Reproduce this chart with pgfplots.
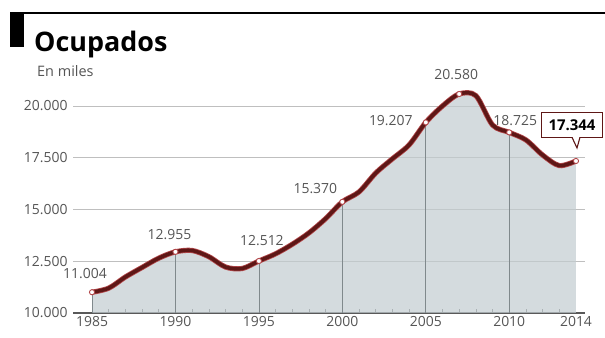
\documentclass[border=0pt]{standalone}
\usepackage{pgfplots}
\usepackage{pgfplotstable}
\pgfplotsset{compat=1.18}
\usetikzlibrary{calc}
\usepackage{fontspec}
\setmainfont{Open Sans}
\definecolor{linedark}{HTML}{5E1716}
\definecolor{lineedge}{HTML}{B2474A}
\definecolor{areafill}{HTML}{C2CCD0}
\definecolor{txtgray}{HTML}{555555}
\definecolor{vgrid}{HTML}{80898C}
\pgfplotstableread{
year val
1985 11004
1986 11200
1987 11740
1988 12200
1989 12650
1990 12955
1991 13020
1992 12720
1993 12220
1994 12150
1995 12512
1996 12860
1997 13320
1998 13870
1999 14560
2000 15370
2001 15850
2002 16760
2003 17450
2004 18120
2005 19207
2006 20000
2007 20580
2008 20500
2009 19080
2010 18725
2011 18360
2012 17630
2013 17120
2014 17344
}\datatable
\pgfplotstableread{
year val
1985 11004
1990 12955
1995 12512
2000 15370
2005 19207
2007 20580
2010 18725
2014 17344
}\marktable
\begin{document}
\begin{tikzpicture}
\path[use as bounding box] (0,0) rectangle (605bp,338bp);
\fill[black] (10bp,291bp) rectangle (24bp,326bp);
\draw[black, line width=1.8bp] (10bp,325bp) -- (605bp,325bp);
\node[anchor=base west, inner sep=0, font=\fontsize{27}{27}\selectfont\bfseries] at (34bp,286bp) {Ocupados};
\node[anchor=base west, inner sep=0, font=\fontsize{14.5}{14.5}\selectfont, text=txtgray] at (37bp,261bp) {En miles};
\begin{axis}[
 at={(73bp,25bp)}, anchor=south west, scale only axis,
 width=512bp, height=248.4bp,
 xmin=1983.86, xmax=2014.54, ymin=10000, ymax=22000,
 clip mode=individual,
 scaled y ticks=false, scaled x ticks=false,
 axis x line*=bottom, axis y line*=left,
 y axis line style={draw=none},
 x axis line style={draw=black!65, line width=1.1bp, -},
 ytick={10000,12500,15000,17500,20000},
 yticklabels={10.000,12.500,15.000,17.500,20.000},
 ytick style={draw=none},
 ymajorgrids, grid style={draw=black!25, line width=0.9bp},
 xtick={1985,1990,1995,2000,2005,2010,2014},
 xticklabels={1985,1990,1995,2000,2005,2010,2014},
 minor xtick={1986,1987,...,2013},
 tick align=inside,
 major x tick style={draw=none},
 minor tick length=4bp,
 minor x tick style={draw=black!55, line width=0.6bp},
 ticklabel style={font=\fontsize{14}{14}\selectfont, text=txtgray},
 yticklabel style={xshift=-2bp},
]
\addplot[fill=areafill, fill opacity=0.7, draw=none, smooth, tension=0.5] table[x=year,y=val] {\datatable} \closedcycle;
\addplot[vgrid, line width=0.7bp] coordinates {(1985,10000) (1985,11004)};
\addplot[vgrid, line width=0.7bp] coordinates {(1990,10000) (1990,12955)};
\addplot[vgrid, line width=0.7bp] coordinates {(1995,10000) (1995,12512)};
\addplot[vgrid, line width=0.7bp] coordinates {(2000,10000) (2000,15370)};
\addplot[vgrid, line width=0.7bp] coordinates {(2005,10000) (2005,19207)};
\addplot[vgrid, line width=0.7bp] coordinates {(2010,10000) (2010,18725)};
\addplot[lineedge, line width=5.2bp, smooth, tension=0.5] table[x=year,y=val] {\datatable};
\addplot[linedark, line width=3.6bp, smooth, tension=0.5] table[x=year,y=val] {\datatable};
\addplot[only marks, mark=*, mark size=2.6bp, mark options={fill=white, draw=lineedge, line width=0.9bp}] table[x=year,y=val] {\marktable};
\begin{scope}[every node/.style={font=\fontsize{14}{14}\selectfont, text=txtgray, inner sep=0}]
\node at ($(axis cs:1985,11004)+(-7bp,19bp)$) {11.004};
\node at ($(axis cs:1990,12955)+(-6bp,17bp)$) {12.955};
\node at ($(axis cs:1995,12512)+(3bp,20bp)$) {12.512};
\node at ($(axis cs:2000,15370)+(-27bp,13bp)$) {15.370};
\node at ($(axis cs:2005,19207)+(-35bp,2bp)$) {19.207};
\node at ($(axis cs:2007,20580)+(-3bp,19bp)$) {20.580};
\node at ($(axis cs:2010,18725)+(6bp,12bp)$) {18.725};
\end{scope}
\coordinate (last) at (axis cs:2014,17344);
\end{axis}
\node[draw=linedark, line width=1.3bp, fill=white, minimum width=61bp, minimum height=25bp, inner sep=1bp, font=\fontsize{15}{15}\selectfont\bfseries] (box) at ($(last)+(-4bp,36bp)$) {17.344};
\fill[white] ($(last)+(-4bp,24.6bp)$) -- ($(last)+(1bp,13bp)$) -- ($(last)+(4bp,24.6bp)$) -- cycle;
\draw[linedark, line width=1.1bp] ($(last)+(-4bp,23.7bp)$) -- ($(last)+(1bp,13bp)$) -- ($(last)+(4bp,23.7bp)$);
\end{tikzpicture}
\end{document}
